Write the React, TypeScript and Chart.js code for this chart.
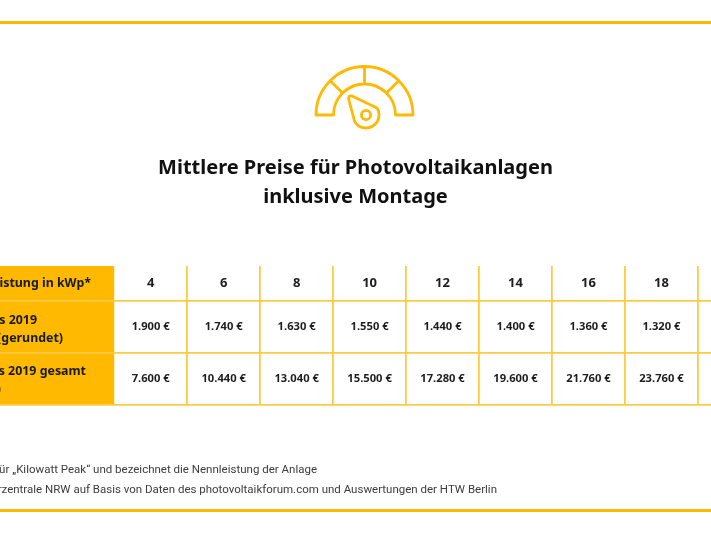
import React, { useEffect, useRef } from "react";
import { Chart, registerables } from "chart.js";

Chart.register(...registerables);

const titleLines = ["Mittlere Preise für Photovoltaikanlagen", "inklusive Montage"];
const kwp = [4, 6, 8, 10, 12, 14, 16, 18, 20];
// The 20 kWp column is almost entirely cut off by the picture's right edge; its values are estimates.
const pricePerKwp = [1900, 1740, 1630, 1550, 1440, 1400, 1360, 1320, 1290];
const totalPrice = [7600, 10440, 13040, 15500, 17280, 19600, 21760, 23760, 25800];
const columnBorders = [3, 5, 7, 9, 11, 13, 15, 17, 19];
const rowBorders = [0, 0.673, 1.673, 2.673];
const rowCentres = [0.337, 1.173, 2.163];
const rowLabels = [
  { row: 0, dy: 0, text: "Anlagenleistung in kWp*", end: 91 },
  { row: 1, dy: -7, text: "Preis 2019", end: 37 },
  { row: 1, dy: 11, text: "pro kWp (gerundet)", end: 63 },
  { row: 2, dy: -7, text: "Preis 2019 gesamt", end: 86 },
  { row: 2, dy: 11, text: "(in €)", end: 1 },
];
const footnotes = [
  { text: "* kWp steht für „Kilowatt Peak“ und bezeichnet die Nennleistung der Anlage", end: 317, y: 470 },
  { text: "Quelle: Verbraucherzentrale NRW auf Basis von Daten des photovoltaikforum.com und Auswertungen der HTW Berlin", end: 497, y: 490 },
];

const ORANGE = "#FFB900";
const GRID = "#FFCB45";
const FONT = "'Noto Sans'";

const euro = (v: number) => {
  const s = String(v);
  return s.slice(0, s.length - 3) + "." + s.slice(-3) + " €";
};

const tablePlugin = {
  id: "tablePlugin",
  beforeDraw(chart: any) {
    const { ctx, scales } = chart;
    const { x, y } = scales;
    ctx.save();
    ctx.fillStyle = "#FFFFFF";
    ctx.fillRect(0, 0, chart.width, chart.height);
    ctx.fillStyle = ORANGE;
    ctx.fillRect(0, 21, chart.width, 3);
    ctx.fillRect(0, 509, chart.width, 3);
    ctx.fillRect(x.left, y.top, x.getPixelForValue(3) - x.left, y.bottom - y.top);
    ctx.restore();
  },
  afterDraw(chart: any) {
    const { ctx, scales } = chart;
    const { x, y } = scales;
    ctx.save();
    ctx.textBaseline = "middle";

    chart.data.datasets.forEach((ds: any) => {
      ctx.textAlign = "center";
      ctx.fillStyle = "#1E1E1E";
      ctx.font = ds.cellFont;
      ds.data.forEach((p: any) => {
        ctx.fillText(p.label, x.getPixelForValue(p.x), y.getPixelForValue(p.y));
      });
    });

    ctx.textAlign = "right";
    ctx.fillStyle = "#1A1A1A";
    ctx.font = `700 12.4px ${FONT}`;
    rowLabels.forEach((l) => {
      ctx.fillText(l.text, l.end, y.getPixelForValue(rowCentres[l.row]) + l.dy);
    });

    ctx.fillStyle = "#3C3C3C";
    ctx.font = `400 11.5px Roboto`;
    footnotes.forEach((f) => ctx.fillText(f.text, f.end, f.y));

    ctx.strokeStyle = ORANGE;
    ctx.lineWidth = 2.8;
    ctx.lineJoin = "round";
    ctx.lineCap = "round";
    const cx = 364.5;
    const cy = 115;
    ctx.beginPath();
    ctx.arc(cx, cy, 48.5, Math.PI, 0);
    ctx.lineTo(cx + 31, cy);
    ctx.arc(cx, cy, 31, 0, Math.PI, true);
    ctx.closePath();
    ctx.moveTo(cx, cy - 48.5);
    ctx.lineTo(cx, cy - 31);
    const d1 = 48.5 * Math.SQRT1_2;
    const d2 = 31 * Math.SQRT1_2;
    ctx.moveTo(cx - d1, cy - d1);
    ctx.lineTo(cx - d2, cy - d2);
    ctx.moveTo(cx + d1, cy - d1);
    ctx.lineTo(cx + d2, cy - d2);
    ctx.stroke();

    const nx = 366;
    const ny = 115;
    const nr = 13;
    ctx.beginPath();
    ctx.arc(nx, ny, nr, (-32 * Math.PI) / 180, (151 * Math.PI) / 180);
    ctx.lineTo(349, 100.5);
    ctx.quadraticCurveTo(347.5, 95, 352, 96);
    ctx.closePath();
    ctx.stroke();
    ctx.beginPath();
    ctx.arc(nx, ny, 4.6, 0, Math.PI * 2);
    ctx.stroke();
    ctx.restore();
  },
};

export default function App() {
  const ref = useRef<HTMLCanvasElement>(null);
  useEffect(() => {
    if (!ref.current) return;
    const chart = new Chart(ref.current, {
      type: "scatter",
      data: {
        datasets: [
          {
            label: "Leistung in kWp",
            cellFont: `700 13px ${FONT}`,
            data: kwp.map((k) => ({ x: k, y: rowCentres[0], label: String(k) })),
            pointRadius: 0,
          },
          {
            label: "Preis 2019 pro kWp",
            cellFont: `700 11.2px ${FONT}`,
            data: kwp.map((k, i) => ({ x: k, y: rowCentres[1], label: euro(pricePerKwp[i]) })),
            pointRadius: 0,
          },
          {
            label: "Preis 2019 gesamt",
            cellFont: `700 11.2px ${FONT}`,
            data: kwp.map((k, i) => ({ x: k, y: rowCentres[2], label: euro(totalPrice[i]) })),
            pointRadius: 0,
          },
        ] as any,
      },
      options: {
        responsive: false,
        animation: false,
        events: [],
        layout: { padding: { top: 0, bottom: 128, left: 0, right: 0 } },
        plugins: {
          legend: { display: false },
          tooltip: { enabled: false },
          title: {
            display: true,
            text: titleLines,
            color: "#111111",
            align: "center",
            font: { family: FONT, size: 20, weight: "bold", lineHeight: 1.45 },
            padding: { top: 154, bottom: 54 },
          },
        },
        scales: {
          x: {
            type: "linear",
            min: -0.131,
            max: 19.359,
            border: { display: false },
            ticks: { display: false },
            afterBuildTicks: (s: any) => {
              s.ticks = columnBorders.map((value) => ({ value }));
            },
            grid: {
              drawTicks: false,
              lineWidth: 1.8,
              color: (c: any) => (c.tick && c.tick.value === 3 ? "rgba(0,0,0,0)" : GRID),
            },
          },
          y: {
            type: "linear",
            reverse: true,
            min: rowBorders[0],
            max: rowBorders[rowBorders.length - 1],
            border: { display: false },
            ticks: { display: false },
            afterBuildTicks: (s: any) => {
              s.ticks = rowBorders.map((value) => ({ value }));
            },
            grid: {
              drawTicks: false,
              lineWidth: 1.8,
              color: (c: any) => (c.tick && c.tick.value === 0 ? "rgba(0,0,0,0)" : GRID),
            },
          },
        },
      } as any,
      plugins: [tablePlugin as any],
    });
    return () => chart.destroy();
  }, []);
  return (
    <div style={{ position: "absolute", left: 0, top: 0, width: 711, height: 533, overflow: "hidden", background: "#fff" }}>
      <canvas ref={ref} width={711} height={533} style={{ display: "block", filter: "blur(0.35px)" }} />
    </div>
  );
}
